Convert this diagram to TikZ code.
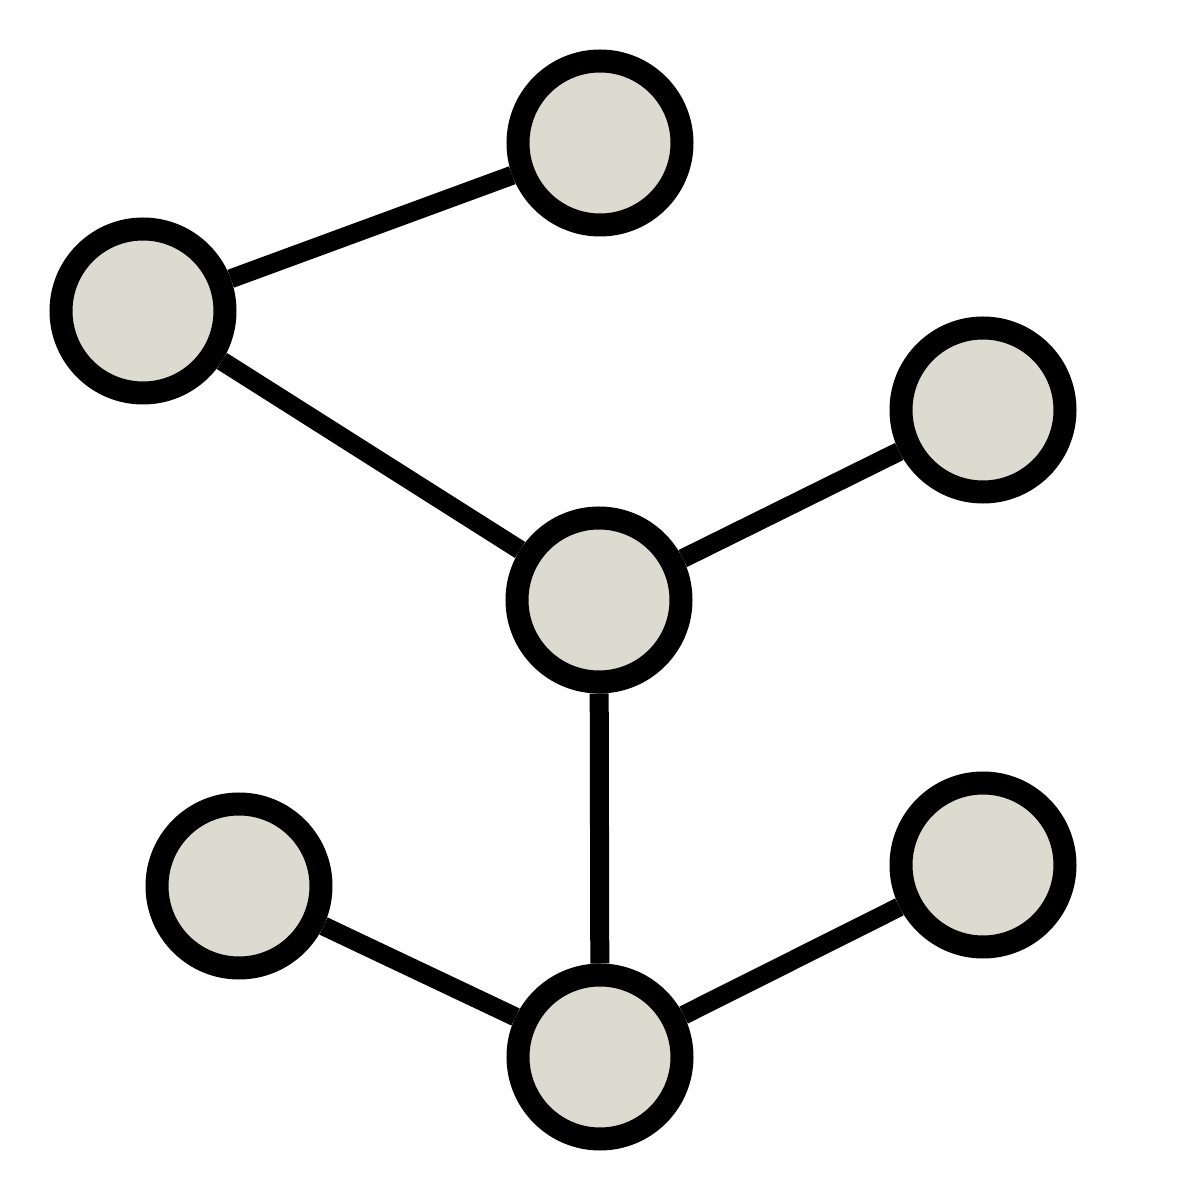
\documentclass[tikz,border=0pt]{standalone}
\usepackage{tikz}
\usetikzlibrary{positioning}

\begin{document}
\begin{tikzpicture}[
  vertex/.style={
    draw,
    circle,
    fill=vertexfill,
    line width=0.23cm,
    minimum size=1.64cm
  },
  edge/.style={
    line width=0.19cm
  }
]
\definecolor{vertexfill}{HTML}{DDDAD0}
\useasboundingbox (0,0) rectangle (12,12);

% Nodes
\node[vertex] (top) at (6.00,10.57) {};
\node[vertex] (left) at (1.43,8.89) {};
\node[vertex] (right) at (9.83,7.90) {};
\node[vertex] (hub) at (5.99,6.00) {};
\node[vertex] (lowleft) at (2.39,3.14) {};
\node[vertex] (lowright) at (9.83,3.35) {};
\node[vertex] (base) at (6.00,1.43) {};

% Edges
\draw[edge] (left) -- (top);
\draw[edge] (left) -- (hub);
\draw[edge] (hub) -- (right);
\draw[edge] (hub) -- (base);
\draw[edge] (lowleft) -- (base);
\draw[edge] (base) -- (lowright);

\end{tikzpicture}
\end{document}
